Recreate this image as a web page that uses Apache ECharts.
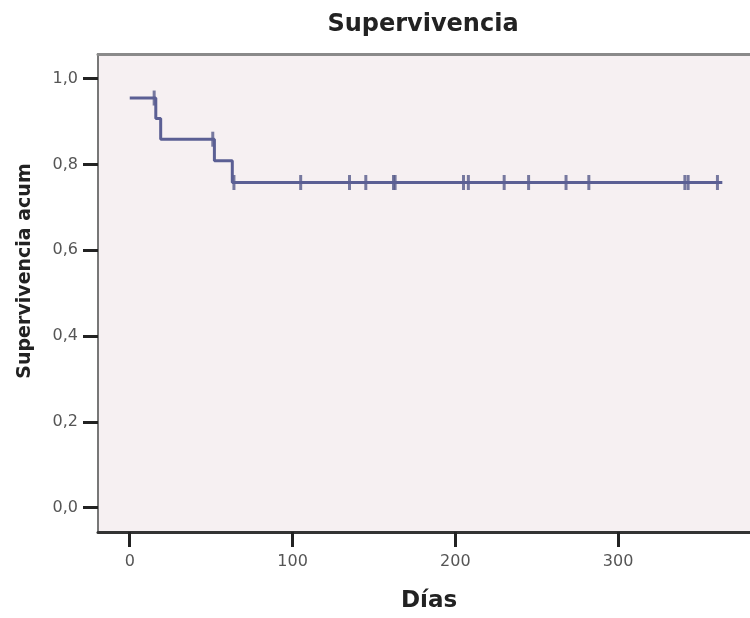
<!DOCTYPE html>
<html>
<head>
<meta charset="utf-8">
<script src="https://cdn.jsdelivr.net/npm/echarts@6/dist/echarts.min.js"></script>
<style>
  html, body { margin: 0; padding: 0; background: #fff; }
  #main { width: 750px; height: 618px; }
</style>
</head>
<body>
<div id="main"></div>
<script>
// Kaplan-Meier steps: [days, cumulative survival]
const stepPoints = [
  [0, 0.955], [16, 0.907], [19, 0.859], [52, 0.809], [63, 0.758], [364, 0.758]
];
// censored cases (days) and the survival level they sit on
const censorDays = [15, 51, 64, 105, 135, 145, 162, 163, 205, 208, 230, 245, 268, 282, 341, 343, 361];
const censorLevel = [0.955, 0.859, 0.758, 0.758, 0.758, 0.758, 0.758, 0.758, 0.758, 0.758, 0.758, 0.758, 0.758, 0.758, 0.758, 0.758, 0.758];
const xTicks = [0, 100, 200, 300];
const yTicks = [0, 0.2, 0.4, 0.6, 0.8, 1.0];

const lineColor = '#5b5f94';
const tickFont = { fontFamily: 'DejaVu Sans', fontSize: 16, color: '#555' };

const chart = echarts.init(document.getElementById('main'));
chart.setOption({
  backgroundColor: '#fff',
  animation: false,
  title: {
    text: 'Supervivencia',
    left: 418,
    top: 8,
    textAlign: 'center',
    textStyle: { fontFamily: 'DejaVu Sans', fontWeight: 'bold', fontSize: 24, color: '#222' }
  },
  grid: {
    left: 98, right: 0, top: 54, bottom: 81,
    show: true, backgroundColor: '#f6f0f2', borderWidth: 0
  },
  xAxis: [{
    type: 'value',
    min: -19.5, max: 381,
    name: 'Días',
    nameLocation: 'middle',
    nameGap: 58,
    nameTextStyle: { fontFamily: 'DejaVu Sans', fontWeight: 'bold', fontSize: 23, color: '#222', padding: [0, 0, 0, 10] },
    axisLine: { show: true, onZero: false, lineStyle: { color: '#333', width: 3 } },
    axisTick: { show: true, customValues: xTicks, length: 15, lineStyle: { color: '#222', width: 3 } },
    axisLabel: Object.assign({ customValues: xTicks, margin: 22 }, tickFont),
    splitLine: { show: false }
  }, {
    type: 'value',
    position: 'top',
    min: -19.5, max: 381,
    axisLine: { show: true, onZero: false, lineStyle: { color: '#8a8a8a', width: 3 } },
    axisTick: { show: false },
    axisLabel: { show: false },
    splitLine: { show: false }
  }],
  yAxis: {
    type: 'value',
    min: -0.057, max: 1.0577,
    axisLine: { show: true, onZero: false, lineStyle: { color: '#777', width: 2 } },
    axisTick: { show: true, customValues: yTicks, length: 15, lineStyle: { color: '#222', width: 3 } },
    axisLabel: Object.assign({
      customValues: yTicks, margin: 20,
      formatter: v => v.toFixed(1).replace('.', ',')
    }, tickFont),
    splitLine: { show: false }
  },
  graphic: [{
    type: 'text',
    x: 25, y: 271,
    rotation: Math.PI / 2,
    style: {
      text: 'Supervivencia acum',
      align: 'center', verticalAlign: 'middle',
      font: 'bold 19px "DejaVu Sans"',
      fill: '#222'
    }
  }],
  series: [{
    type: 'line',
    step: 'end',
    data: stepPoints,
    showSymbol: false,
    lineStyle: { color: lineColor, width: 3 }
  }, {
    type: 'scatter',
    data: censorDays.map((d, i) => [d, censorLevel[i]]),
    symbol: 'rect',
    symbolSize: [3, 15],
    itemStyle: { color: '#565a8a' }
  }]
});
</script>
</body>
</html>
